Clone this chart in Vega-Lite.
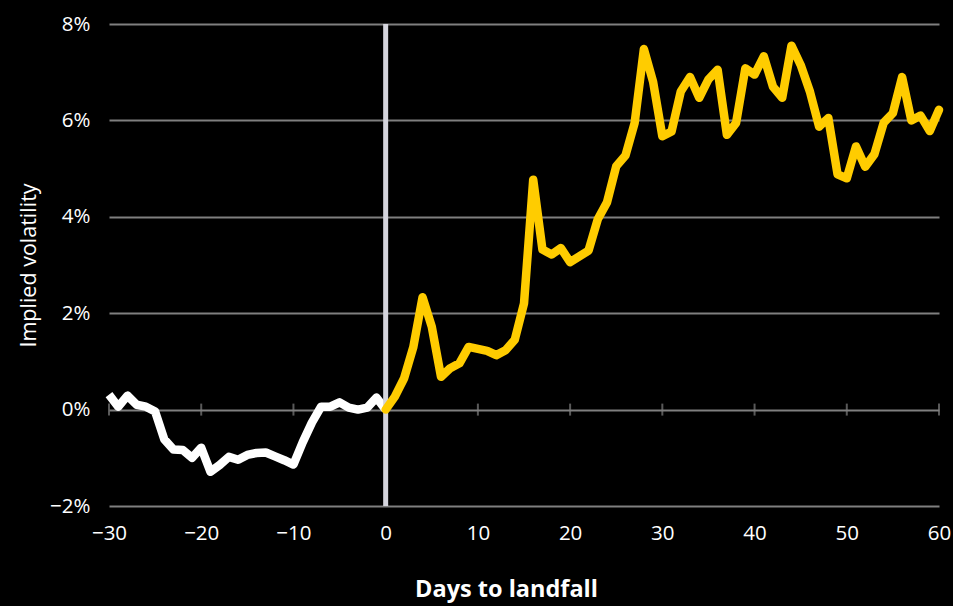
{
  "$schema": "https://vega.github.io/schema/vega-lite/v6.json",
  "width": 830,
  "height": 482,
  "autosize": {"type": "none"},
  "padding": {"left": 109, "top": 24, "right": 14, "bottom": 100},
  "background": "#000000",
  "config": {
    "view": {"stroke": null},
    "font": "Open Sans",
    "axis": {
      "labelColor": "#ffffff",
      "titleColor": "#ffffff",
      "labelFont": "Open Sans",
      "titleFont": "Open Sans",
      "labelFontSize": 20.5,
      "labelFontWeight": 400,
      "domain": false,
      "ticks": false
    }
  },
  "datasets": {
    "vol": [
      {"day": -30, "vol": 0.31, "phase": "before"},
      {"day": -29, "vol": 0.06, "phase": "before"},
      {"day": -28, "vol": 0.29, "phase": "before"},
      {"day": -27, "vol": 0.1, "phase": "before"},
      {"day": -26, "vol": 0.06, "phase": "before"},
      {"day": -25, "vol": -0.04, "phase": "before"},
      {"day": -24, "vol": -0.62, "phase": "before"},
      {"day": -23, "vol": -0.83, "phase": "before"},
      {"day": -22, "vol": -0.84, "phase": "before"},
      {"day": -21, "vol": -1.0, "phase": "before"},
      {"day": -20, "vol": -0.79, "phase": "before"},
      {"day": -19, "vol": -1.29, "phase": "before"},
      {"day": -18, "vol": -1.15, "phase": "before"},
      {"day": -17, "vol": -0.98, "phase": "before"},
      {"day": -16, "vol": -1.04, "phase": "before"},
      {"day": -15, "vol": -0.94, "phase": "before"},
      {"day": -14, "vol": -0.9, "phase": "before"},
      {"day": -13, "vol": -0.89, "phase": "before"},
      {"day": -12, "vol": -0.97, "phase": "before"},
      {"day": -11, "vol": -1.05, "phase": "before"},
      {"day": -10, "vol": -1.14, "phase": "before"},
      {"day": -9, "vol": -0.68, "phase": "before"},
      {"day": -8, "vol": -0.27, "phase": "before"},
      {"day": -7, "vol": 0.06, "phase": "before"},
      {"day": -6, "vol": 0.06, "phase": "before"},
      {"day": -5, "vol": 0.15, "phase": "before"},
      {"day": -4, "vol": 0.04, "phase": "before"},
      {"day": -3, "vol": 0.0, "phase": "before"},
      {"day": -2, "vol": 0.04, "phase": "before"},
      {"day": -1, "vol": 0.25, "phase": "before"},
      {"day": 0, "vol": 0.0, "phase": "before"},
      {"day": 0, "vol": 0.0, "phase": "after"},
      {"day": 1, "vol": 0.27, "phase": "after"},
      {"day": 2, "vol": 0.65, "phase": "after"},
      {"day": 3, "vol": 1.3, "phase": "after"},
      {"day": 4, "vol": 2.33, "phase": "after"},
      {"day": 5, "vol": 1.72, "phase": "after"},
      {"day": 6, "vol": 0.68, "phase": "after"},
      {"day": 7, "vol": 0.86, "phase": "after"},
      {"day": 8, "vol": 0.96, "phase": "after"},
      {"day": 9, "vol": 1.3, "phase": "after"},
      {"day": 10, "vol": 1.26, "phase": "after"},
      {"day": 11, "vol": 1.22, "phase": "after"},
      {"day": 12, "vol": 1.13, "phase": "after"},
      {"day": 13, "vol": 1.23, "phase": "after"},
      {"day": 14, "vol": 1.45, "phase": "after"},
      {"day": 15, "vol": 2.2, "phase": "after"},
      {"day": 16, "vol": 4.77, "phase": "after"},
      {"day": 17, "vol": 3.32, "phase": "after"},
      {"day": 18, "vol": 3.22, "phase": "after"},
      {"day": 19, "vol": 3.35, "phase": "after"},
      {"day": 20, "vol": 3.06, "phase": "after"},
      {"day": 21, "vol": 3.18, "phase": "after"},
      {"day": 22, "vol": 3.3, "phase": "after"},
      {"day": 23, "vol": 3.95, "phase": "after"},
      {"day": 24, "vol": 4.3, "phase": "after"},
      {"day": 25, "vol": 5.05, "phase": "after"},
      {"day": 26, "vol": 5.27, "phase": "after"},
      {"day": 27, "vol": 5.95, "phase": "after"},
      {"day": 28, "vol": 7.48, "phase": "after"},
      {"day": 29, "vol": 6.8, "phase": "after"},
      {"day": 30, "vol": 5.67, "phase": "after"},
      {"day": 31, "vol": 5.77, "phase": "after"},
      {"day": 32, "vol": 6.6, "phase": "after"},
      {"day": 33, "vol": 6.9, "phase": "after"},
      {"day": 34, "vol": 6.47, "phase": "after"},
      {"day": 35, "vol": 6.85, "phase": "after"},
      {"day": 36, "vol": 7.05, "phase": "after"},
      {"day": 37, "vol": 5.7, "phase": "after"},
      {"day": 38, "vol": 5.95, "phase": "after"},
      {"day": 39, "vol": 7.08, "phase": "after"},
      {"day": 40, "vol": 6.95, "phase": "after"},
      {"day": 41, "vol": 7.33, "phase": "after"},
      {"day": 42, "vol": 6.7, "phase": "after"},
      {"day": 43, "vol": 6.47, "phase": "after"},
      {"day": 44, "vol": 7.55, "phase": "after"},
      {"day": 45, "vol": 7.15, "phase": "after"},
      {"day": 46, "vol": 6.6, "phase": "after"},
      {"day": 47, "vol": 5.87, "phase": "after"},
      {"day": 48, "vol": 6.05, "phase": "after"},
      {"day": 49, "vol": 4.88, "phase": "after"},
      {"day": 50, "vol": 4.8, "phase": "after"},
      {"day": 51, "vol": 5.46, "phase": "after"},
      {"day": 52, "vol": 5.04, "phase": "after"},
      {"day": 53, "vol": 5.3, "phase": "after"},
      {"day": 54, "vol": 5.95, "phase": "after"},
      {"day": 55, "vol": 6.15, "phase": "after"},
      {"day": 56, "vol": 6.9, "phase": "after"},
      {"day": 57, "vol": 6.0, "phase": "after"},
      {"day": 58, "vol": 6.1, "phase": "after"},
      {"day": 59, "vol": 5.78, "phase": "after"},
      {"day": 60, "vol": 6.22, "phase": "after"}
    ],
    "ticks": [
      {"day": -30, "vol": 0}, {"day": -20, "vol": 0}, {"day": -10, "vol": 0},
      {"day": 10, "vol": 0}, {"day": 20, "vol": 0}, {"day": 30, "vol": 0},
      {"day": 40, "vol": 0}, {"day": 50, "vol": 0}, {"day": 60, "vol": 0}
    ],
    "landfall": [{"day": 0}]
  },
  "layer": [
    {
      "data": {"name": "ticks"},
      "mark": {"type": "tick", "orient": "vertical", "color": "#7f7f7f", "size": 12, "thickness": 2},
      "encoding": {
        "x": {
          "field": "day", "type": "quantitative",
          "scale": {"domain": [-30, 60], "nice": false, "zero": false},
          "axis": {
            "values": [-30, -20, -10, 0, 10, 20, 30, 40, 50, 60],
            "grid": false,
            "labelPadding": 17,
            "labelFlush": false,
            "labelExpr": "replace(datum.label, '-', '\u2212')",
            "title": "Days to landfall",
            "titleFontSize": 23.5,
            "titleFontWeight": "bold",
            "titlePadding": 34,
            "titleX": 397
          }
        },
        "y": {
          "field": "vol", "type": "quantitative",
          "scale": {"domain": [-2, 8], "nice": false, "zero": false},
          "axis": {
            "values": [-2, 0, 2, 4, 6, 8],
            "grid": true,
            "gridColor": "#7f7f7f",
            "gridWidth": 2,
            "labelPadding": 19,
            "labelExpr": "replace(datum.label, '-', '\u2212') + '%'",
            "title": "Implied volatility",
            "titleFontSize": 21.5,
            "titleFontWeight": 400,
            "titlePadding": 9
          }
        }
      }
    },
    {
      "data": {"name": "vol"},
      "transform": [{"filter": "datum.phase === 'before'"}],
      "mark": {"type": "line", "color": "#ffffff", "strokeWidth": 8.5, "strokeJoin": "round", "strokeCap": "butt"},
      "encoding": {
        "x": {"field": "day", "type": "quantitative"},
        "y": {"field": "vol", "type": "quantitative"}
      }
    },
    {
      "data": {"name": "landfall"},
      "mark": {"type": "rule", "color": "#d4d4dc", "strokeWidth": 5},
      "encoding": {
        "x": {"field": "day", "type": "quantitative"}
      }
    },
    {
      "data": {"name": "vol"},
      "transform": [{"filter": "datum.phase === 'after'"}],
      "mark": {"type": "line", "color": "#ffcc00", "strokeWidth": 8.5, "strokeJoin": "round", "strokeCap": "round"},
      "encoding": {
        "x": {"field": "day", "type": "quantitative"},
        "y": {"field": "vol", "type": "quantitative"}
      }
    }
  ]
}
